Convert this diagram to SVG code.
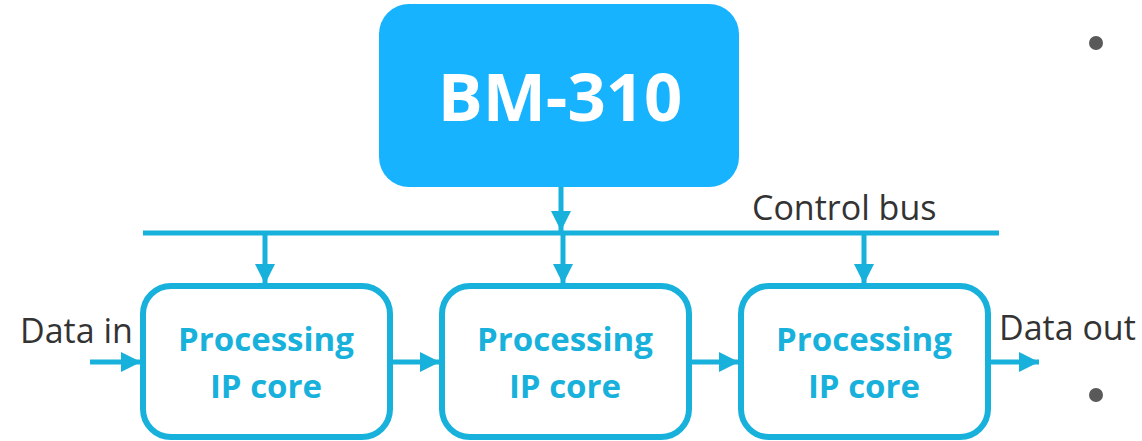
<svg xmlns="http://www.w3.org/2000/svg" width="1142" height="441" viewBox="0 0 1142 441">
<style>
.bus{stroke:#18B1DC;stroke-width:5;fill:none}
.box{fill:#fff;stroke:#18B1DC;stroke-width:6}
.pt{font-family:"Open Sans","Liberation Sans",sans-serif;font-weight:bold;font-size:33px;fill:#18B1DC;text-anchor:middle}
.lbl{font-family:"Open Sans","Liberation Sans",sans-serif;font-size:34px;fill:#333}
</style>
<defs>
<marker id="ah" viewBox="0 0 10 10" refX="10" refY="5" markerWidth="4" markerHeight="4" markerUnits="strokeWidth" orient="auto">
<path d="M0,0 L10,5 L0,10 z" fill="#18B1DC"/>
</marker>
</defs>
<g id="bm310">
<rect x="379" y="4" width="360" height="183" rx="30" fill="#18B3FF"/>
<text x="560" y="121" font-family="'Open Sans','Liberation Sans',sans-serif" font-weight="bold" font-size="67" fill="#fff" text-anchor="middle">BM-310</text>
</g>
<g id="core1">
<rect x="143" y="286" width="247" height="151" rx="28" class="box"/>
<text x="266" y="351" class="pt">Processing</text>
<text x="266" y="398" class="pt">IP core</text>
</g>
<g id="core2">
<rect x="442" y="286" width="247" height="151" rx="28" class="box"/>
<text x="565" y="351" class="pt">Processing</text>
<text x="565" y="398" class="pt">IP core</text>
</g>
<g id="core3">
<rect x="741" y="286" width="247" height="151" rx="28" class="box"/>
<text x="864" y="351" class="pt">Processing</text>
<text x="864" y="398" class="pt">IP core</text>
</g>
<g id="connectors">
<line x1="143" y1="233" x2="999" y2="233" class="bus"/>
<line x1="561" y1="187" x2="561" y2="231" class="bus" marker-end="url(#ah)"/>
<line x1="265" y1="233" x2="265" y2="284" class="bus" marker-end="url(#ah)"/>
<line x1="563" y1="233" x2="563" y2="284" class="bus" marker-end="url(#ah)"/>
<line x1="864" y1="233" x2="864" y2="284" class="bus" marker-end="url(#ah)"/>
<line x1="90" y1="362" x2="141" y2="362" class="bus" marker-end="url(#ah)"/>
<line x1="392" y1="362" x2="440" y2="362" class="bus" marker-end="url(#ah)"/>
<line x1="691" y1="362" x2="739" y2="362" class="bus" marker-end="url(#ah)"/>
<line x1="990" y1="362" x2="1039" y2="362" class="bus" marker-end="url(#ah)"/>
</g>
<g id="labels">
<text x="752" y="220" class="lbl">Control bus</text>
<text x="20" y="343" class="lbl">Data in</text>
<text x="999" y="340" class="lbl">Data out</text>
</g>
<g id="bullets">
<circle cx="1096" cy="43" r="7" fill="#595959"/>
<circle cx="1096" cy="395" r="7" fill="#595959"/>
</g>
</svg>
